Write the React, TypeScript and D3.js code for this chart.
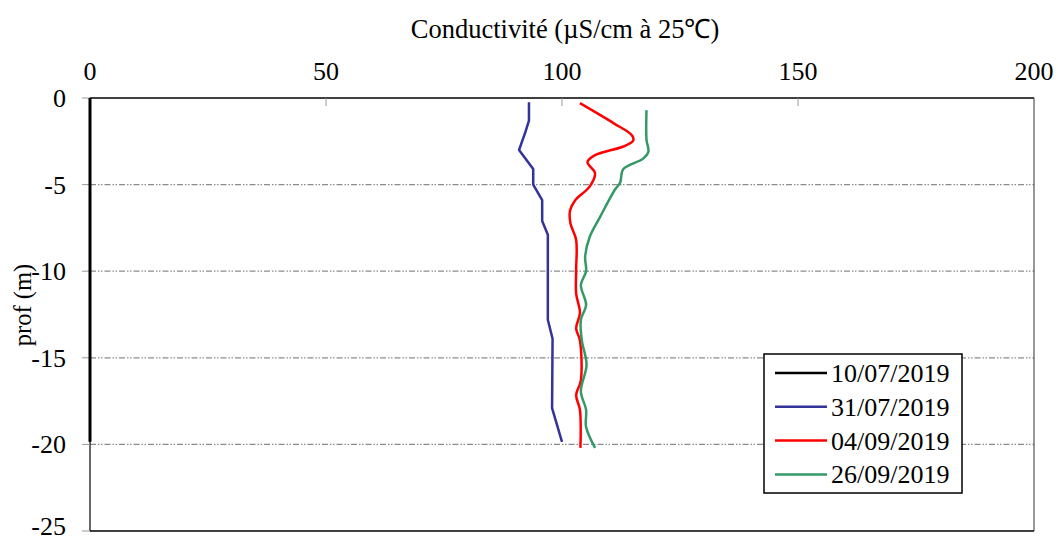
import React from 'react';
import { scaleLinear, line, curveCatmullRom, curveLinear } from 'd3';

// conductivity profiles (µS/cm à 25°C) vs depth (m)
const depth1007 = [0, -5, -10, -15, -19.85];
const cond1007 = [0, 0, 0, 0, 0];

const depth3107 = [-0.25, -1.3, -2, -3, -4.1, -5, -5.9, -7.1, -7.9, -12.8, -13.9, -17.9, -19.85];
const cond3107 = [93, 93, 92.2, 90.9, 93.9, 93.9, 95.8, 95.8, 97, 97, 98, 97.9, 100];

const depth0409 = [-0.3, -1.45, -2.15, -2.45, -2.8, -3.3, -3.7, -4.35, -5.1, -5.9, -6.5, -7.25, -8.2, -9.9, -11.3, -12.4, -13.3, -14, -16.3, -17.15, -18, -20.2];
const cond0409 = [103.8, 110.9, 114.8, 115.1, 113, 107, 105.4, 107, 105.9, 102.8, 101.7, 101.8, 103, 103, 103, 103.8, 103, 103.8, 104, 103, 103.8, 103.9];

const depth2609 = [-0.7, -2.4, -3.1, -3.5, -4.1, -4.9, -5.3, -6.85, -8, -9.15, -10, -10.8, -11.95, -12.8, -14, -15.4, -16.95, -18, -19, -20.2];
const cond2609 = [117.9, 117.9, 118.3, 117.2, 113, 112.3, 111.2, 108.1, 105.9, 104.9, 105.1, 104, 105.1, 104, 104.2, 105.2, 104, 105.1, 105.1, 107];

const xTicks = [0, 50, 100, 150, 200];
const yTicks = [0, -5, -10, -15, -20, -25];

const seriesList = [
  { name: '10/07/2019', color: '#000000', depth: depth1007, cond: cond1007, smooth: false },
  { name: '31/07/2019', color: '#333399', depth: depth3107, cond: cond3107, smooth: false },
  { name: '04/09/2019', color: '#ff0000', depth: depth0409, cond: cond0409, smooth: true },
  { name: '26/09/2019', color: '#339966', depth: depth2609, cond: cond2609, smooth: true },
];

const W = 1058;
const H = 541;
const left = 90;
const right = 1034;
const top = 98;
const bottom = 531;

const App = () => {
  const x = scaleLinear().domain([0, 200]).range([left, right]);
  const y = scaleLinear().domain([0, -25]).range([top, bottom]);
  const font = '"Liberation Serif", "Times New Roman", serif';

  return (
    <svg width={W} height={H} style={{ position: 'absolute', left: 0, top: 0, background: '#fff' }}>
      {/* gridlines */}
      {yTicks.filter((t) => t !== 0 && t !== -25).map((t) => (
        <line key={t} x1={left} x2={right} y1={y(t)} y2={y(t)}
          stroke="#8c8c8c" strokeWidth={1.2} strokeDasharray="6 2 1.5 1.5 1.5 2" />
      ))}

      {/* plot frame */}
      <line x1={left} x2={right} y1={top} y2={top} stroke="#000" strokeWidth={1.5} />
      <line x1={left} x2={right} y1={bottom} y2={bottom} stroke="#000" strokeWidth={1.5} />
      <line x1={left} x2={left} y1={top} y2={bottom} stroke="#000" strokeWidth={1.2} />
      <line x1={right} x2={right} y1={top} y2={bottom} stroke="#333" strokeWidth={1} />

      {/* top axis */}
      {xTicks.map((t) => (
        <g key={t}>
          {t !== 0 && t !== 200 && (
            <line x1={x(t)} x2={x(t)} y1={top} y2={top + 8} stroke="#999" strokeWidth={1} />
          )}
          <text x={x(t)} y={80} textAnchor="middle" fontFamily={font} fontSize={26}>{t}</text>
        </g>
      ))}
      <text x={565} y={38} textAnchor="middle" fontFamily={font} fontSize={26.5}>
        Conductivité (µS/cm à 25℃)
      </text>

      {/* left axis */}
      {yTicks.map((t) => (
        <g key={t}>
          <line x1={left - 8} x2={left} y1={y(t)} y2={y(t)} stroke="#999" strokeWidth={1} />
          <text x={66} y={Math.min(y(t) + 9, 535)} textAnchor="end" fontFamily={font} fontSize={26}>{t}</text>
        </g>
      ))}
      <text transform={`translate(31, 305) rotate(-90)`} textAnchor="middle" fontFamily={font} fontSize={24.5}>
        prof (m)
      </text>

      {/* series */}
      {seriesList.map((s) => {
        const pts: [number, number][] = s.depth.map((d, i) => [s.cond[i], d]);
        const gen = line<[number, number]>()
          .x((p) => x(p[0]))
          .y((p) => y(p[1]))
          .curve(s.smooth ? curveCatmullRom.alpha(0.5) : curveLinear);
        return (
          <path key={s.name} d={gen(pts) || ''} fill="none" stroke={s.color}
            strokeWidth={s.name === '10/07/2019' ? 3 : 2.5} strokeLinejoin="round" />
        );
      })}

      {/* legend */}
      <rect x={764} y={354} width={198} height={139} fill="#fff" stroke="#000" strokeWidth={1.5} />
      {seriesList.map((s, i) => {
        const cy = 373 + i * 33.8;
        return (
          <g key={s.name}>
            <line x1={775} x2={827} y1={cy} y2={cy} stroke={s.color} strokeWidth={2.5} />
            <text x={831} y={cy + 9} fontFamily={font} fontSize={26}>{s.name}</text>
          </g>
        );
      })}
    </svg>
  );
};

export default App;
